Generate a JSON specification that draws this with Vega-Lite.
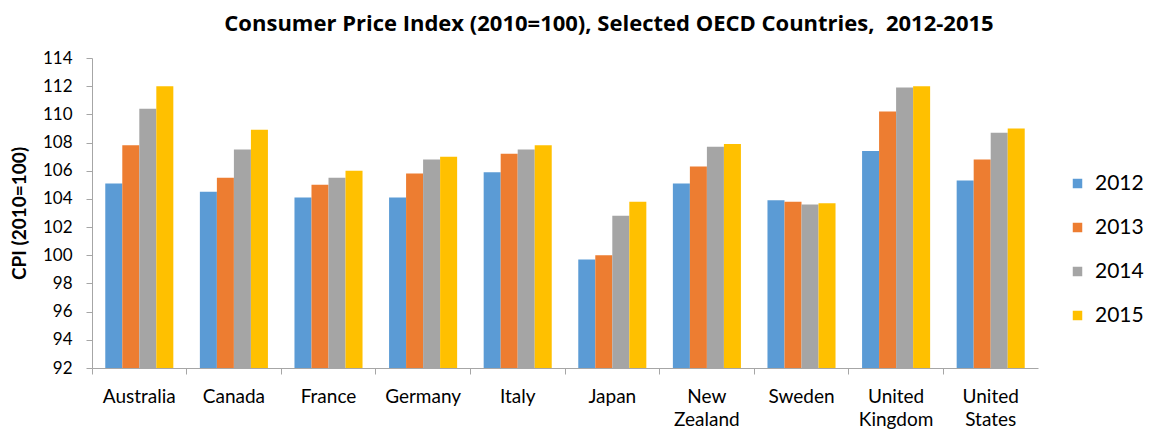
{
  "$schema": "https://vega.github.io/schema/vega-lite/v6.json",
  "width": 946,
  "height": 310,
  "autosize": "none",
  "padding": {"left": 92, "top": 58, "right": 112, "bottom": 66},
  "background": "white",
  "config": {
    "font": "Lato",
    "view": {"stroke": null},
    "axis": {"grid": false}
  },
  "title": {
    "text": "Consumer Price Index (2010=100), Selected OECD Countries,\u00a0 2012-2015",
    "font": "Open Sans",
    "fontSize": 22,
    "fontWeight": "bold",
    "color": "#000000",
    "anchor": "middle",
    "frame": "group",
    "offset": 13,
    "dx": 44
  },
  "data": {
    "values": [
      {"country": "Australia", "year": "2012", "cpi": 105.1},
      {"country": "Australia", "year": "2013", "cpi": 107.8},
      {"country": "Australia", "year": "2014", "cpi": 110.4},
      {"country": "Australia", "year": "2015", "cpi": 112.0},
      {"country": "Canada", "year": "2012", "cpi": 104.5},
      {"country": "Canada", "year": "2013", "cpi": 105.5},
      {"country": "Canada", "year": "2014", "cpi": 107.5},
      {"country": "Canada", "year": "2015", "cpi": 108.9},
      {"country": "France", "year": "2012", "cpi": 104.1},
      {"country": "France", "year": "2013", "cpi": 105.0},
      {"country": "France", "year": "2014", "cpi": 105.5},
      {"country": "France", "year": "2015", "cpi": 106.0},
      {"country": "Germany", "year": "2012", "cpi": 104.1},
      {"country": "Germany", "year": "2013", "cpi": 105.8},
      {"country": "Germany", "year": "2014", "cpi": 106.8},
      {"country": "Germany", "year": "2015", "cpi": 107.0},
      {"country": "Italy", "year": "2012", "cpi": 105.9},
      {"country": "Italy", "year": "2013", "cpi": 107.2},
      {"country": "Italy", "year": "2014", "cpi": 107.5},
      {"country": "Italy", "year": "2015", "cpi": 107.8},
      {"country": "Japan", "year": "2012", "cpi": 99.7},
      {"country": "Japan", "year": "2013", "cpi": 100.0},
      {"country": "Japan", "year": "2014", "cpi": 102.8},
      {"country": "Japan", "year": "2015", "cpi": 103.8},
      {"country": "New Zealand", "year": "2012", "cpi": 105.1},
      {"country": "New Zealand", "year": "2013", "cpi": 106.3},
      {"country": "New Zealand", "year": "2014", "cpi": 107.7},
      {"country": "New Zealand", "year": "2015", "cpi": 107.9},
      {"country": "Sweden", "year": "2012", "cpi": 103.9},
      {"country": "Sweden", "year": "2013", "cpi": 103.8},
      {"country": "Sweden", "year": "2014", "cpi": 103.6},
      {"country": "Sweden", "year": "2015", "cpi": 103.7},
      {"country": "United Kingdom", "year": "2012", "cpi": 107.4},
      {"country": "United Kingdom", "year": "2013", "cpi": 110.2},
      {"country": "United Kingdom", "year": "2014", "cpi": 111.9},
      {"country": "United Kingdom", "year": "2015", "cpi": 112.0},
      {"country": "United States", "year": "2012", "cpi": 105.3},
      {"country": "United States", "year": "2013", "cpi": 106.8},
      {"country": "United States", "year": "2014", "cpi": 108.7},
      {"country": "United States", "year": "2015", "cpi": 109.0}
    ]
  },
  "mark": {"type": "bar", "clip": true},
  "encoding": {
    "x": {
      "field": "country",
      "type": "nominal",
      "sort": null,
      "scale": {"paddingInner": 0, "paddingOuter": 0},
      "axis": {
        "title": null,
        "labelAngle": 0,
        "bandPosition": 0,
        "labelExpr": "split(datum.label, ' ')",
        "labelFontSize": 19,
        "labelColor": "#000000",
        "labelPadding": 13,
        "labelLineHeight": 23,
        "labelBaseline": "top",
        "domainColor": "#A6A6A6",
        "tickColor": "#A6A6A6",
        "tickSize": 6
      }
    },
    "xOffset": {
      "field": "year",
      "type": "nominal",
      "scale": {"paddingInner": 0, "paddingOuter": 0.78}
    },
    "y": {
      "field": "cpi",
      "type": "quantitative",
      "scale": {"domain": [92, 114], "zero": false, "nice": false},
      "axis": {
        "title": "CPI (2010=100)",
        "titleFontSize": 19,
        "titleFontWeight": "bold",
        "titleColor": "#000000",
        "titlePadding": 13,
        "values": [92, 94, 96, 98, 100, 102, 104, 106, 108, 110, 112, 114],
        "labelFontSize": 17,
        "labelColor": "#000000",
        "labelPadding": 14,
        "domainColor": "#A6A6A6",
        "tickColor": "#A6A6A6",
        "tickSize": 6
      }
    },
    "y2": {"datum": 92},
    "color": {
      "field": "year",
      "type": "nominal",
      "scale": {
        "domain": ["2012", "2013", "2014", "2015"],
        "range": ["#5B9BD5", "#ED7D31", "#A5A5A5", "#FFC000"]
      },
      "legend": {
        "title": null,
        "orient": "none",
        "legendX": 975,
        "legendY": 115,
        "symbolType": "square",
        "symbolSize": 90,
        "symbolStrokeWidth": 0,
        "labelFontSize": 21,
        "labelColor": "#000000",
        "rowPadding": 22,
        "labelOffset": 7
      }
    }
  }
}
